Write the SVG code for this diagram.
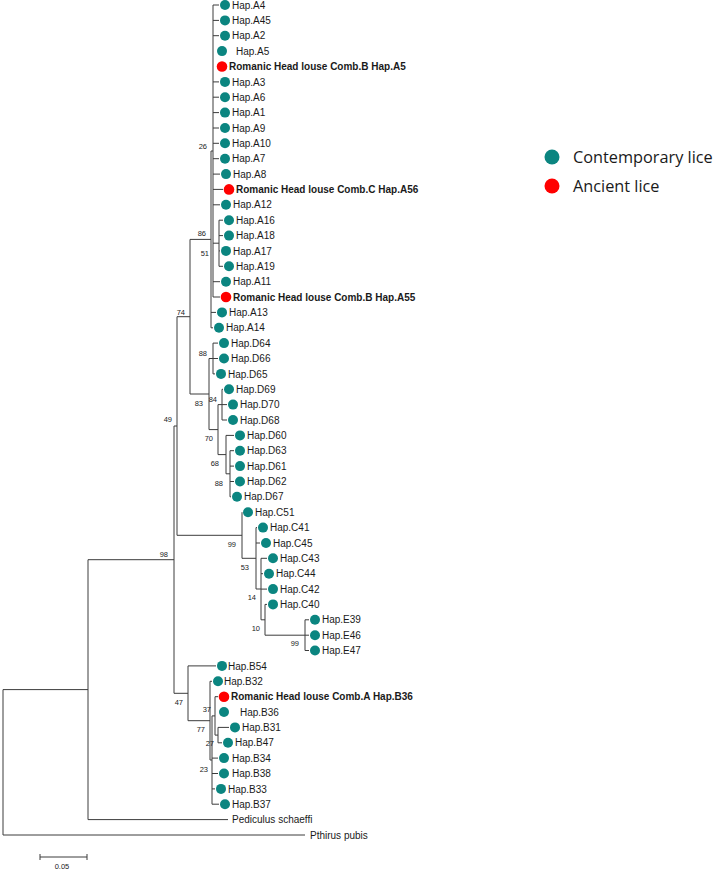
<svg xmlns="http://www.w3.org/2000/svg" width="720" height="870" viewBox="0 0 720 870">
<style>
.b{fill:none;stroke:#3c3c3c;stroke-width:1}
.t{font-family:"Liberation Sans",Arial,sans-serif;font-size:10px;fill:#1a1a1a}
.rb{font-weight:bold}
.n{font-family:"Liberation Sans",Arial,sans-serif;font-size:7.5px;fill:#222;text-anchor:end}
.g{fill:#0b8580}
.r{fill:#ff0000}
.lg{font-family:"Open Sans",sans-serif;font-size:16.3px;fill:#1a1a1a}
</style>
<rect width="720" height="870" fill="#fff"/>
<g id="connectors">
<path class="b" d="M3 689.6V835M3 689.6H88M3 835H305
M88 559.7V819.6M88 559.7H174M88 819.6H228
M174 426V693.3M174 426H177M174 693.3H188
M177 316.7V535.3M177 316.7H190M177 535.3H242
M190 239.4V394M190 239.4H211M190 394H209
M211 151V327.8M211 151H213M211 312.4H216M211 327.8H213
M213 5V297M213 5H219M213 20.4H219M213 35.7H219M213 81.9H219M213 97.2H219M213 112.6H219M213 128H219M213 143.3H219M213 158.7H219M213 174.1H220M213 189.4H223M213 204.8H220M213 243.2H219M213 281.7H220M213 297H220
M219 220.2V266.3M219 220.2H223M219 235.6H223M219 250.9H220M219 266.3H223
M209 358.5V429.6M209 358.5H213M209 429.6H218
M213 343.1V373.9M213 343.1H218M213 358.5H218M213 373.9H215
M218 404.6V454.6M218 404.6H222M218 454.6H226
M222 389.3V420M222 389.3H223M222 404.6H227M222 420H227
M226 435.4V473.8M226 435.4H234M226 473.8H230
M230 450.7V496.8M230 450.7H234M230 466.1H234M230 481.5H234M230 496.8H231
M242 512.2V558.3M242 558.3H256
M256 527.6V589M256 527.6H257M256 543H260M256 589H261
M261 558.3V619.8M261 558.3H267M261 573.7H263M261 589.1H267M261 619.8H265
M265 604.4V635.2M265 604.4H267M265 635.2H305
M305 619.8V650.5M305 619.8H309M305 635.2H309M305 650.5H309
M188 665.9V720.7M188 665.9H216M188 720.7H210
M210 681.3V760M210 681.3H212M210 760H212
M212 715.9V804.2M212 715.9H215M212 758.1H218M212 773.5H218M212 788.9H215M212 804.2H219
M215 696.7V735.1M215 696.7H218M215 735.1H218
M218 727.4V742.8M218 727.4H229M218 742.8H222"/>
</g>
<g id="bootstrap">
<text class="n" x="207" y="148.5">26</text>
<text class="n" x="206" y="235.5">86</text>
<text class="n" x="209" y="255.5">51</text>
<text class="n" x="185" y="315">74</text>
<text class="n" x="207" y="355.5">88</text>
<text class="n" x="203" y="405.5">83</text>
<text class="n" x="217" y="401.5">84</text>
<text class="n" x="213" y="440.5">70</text>
<text class="n" x="219" y="465.5">68</text>
<text class="n" x="223" y="485.5">88</text>
<text class="n" x="172" y="421.5">49</text>
<text class="n" x="168" y="556.5">98</text>
<text class="n" x="236" y="546.5">99</text>
<text class="n" x="249" y="569.5">53</text>
<text class="n" x="256" y="599.5">14</text>
<text class="n" x="260" y="630.5">10</text>
<text class="n" x="299" y="645.5">99</text>
<text class="n" x="183" y="704.5">47</text>
<text class="n" x="211" y="711.5">37</text>
<text class="n" x="205" y="731.5">77</text>
<text class="n" x="214" y="745.5">27</text>
<text class="n" x="208" y="771.5">23</text>
</g>
<g id="A4"><circle class="g" cx="225" cy="5" r="5"/><text class="t" x="232" y="8.6">Hap.A4</text></g>
<g id="A45"><circle class="g" cx="225" cy="20.4" r="5"/><text class="t" x="232" y="24">Hap.A45</text></g>
<g id="A2"><circle class="g" cx="225" cy="35.7" r="5"/><text class="t" x="232" y="39.3">Hap.A2</text></g>
<g id="A5"><circle class="g" cx="222" cy="51.1" r="5"/><text class="t" x="236" y="54.7">Hap.A5</text></g>
<g id="RomA5"><circle class="r" cx="222" cy="66.5" r="5.3"/><text class="t rb" x="229" y="70.1">Romanic Head louse Comb.B Hap.A5</text></g>
<g id="A3"><circle class="g" cx="225" cy="81.9" r="5"/><text class="t" x="232" y="85.5">Hap.A3</text></g>
<g id="A6"><circle class="g" cx="225" cy="97.2" r="5"/><text class="t" x="232" y="100.8">Hap.A6</text></g>
<g id="A1"><circle class="g" cx="225" cy="112.6" r="5"/><text class="t" x="232" y="116.2">Hap.A1</text></g>
<g id="A9"><circle class="g" cx="225" cy="128" r="5"/><text class="t" x="232" y="131.6">Hap.A9</text></g>
<g id="A10"><circle class="g" cx="225" cy="143.3" r="5"/><text class="t" x="232" y="146.9">Hap.A10</text></g>
<g id="A7"><circle class="g" cx="225" cy="158.7" r="5"/><text class="t" x="232" y="162.3">Hap.A7</text></g>
<g id="A8"><circle class="g" cx="226" cy="174.1" r="5"/><text class="t" x="233" y="177.7">Hap.A8</text></g>
<g id="RomA56"><circle class="r" cx="229" cy="189.4" r="5.3"/><text class="t rb" x="236" y="193">Romanic Head louse Comb.C Hap.A56</text></g>
<g id="A12"><circle class="g" cx="226" cy="204.8" r="5"/><text class="t" x="233" y="208.4">Hap.A12</text></g>
<g id="A16"><circle class="g" cx="229" cy="220.2" r="5"/><text class="t" x="236" y="223.8">Hap.A16</text></g>
<g id="A18"><circle class="g" cx="229" cy="235.6" r="5"/><text class="t" x="236" y="239.2">Hap.A18</text></g>
<g id="A17"><circle class="g" cx="226" cy="250.9" r="5"/><text class="t" x="233" y="254.5">Hap.A17</text></g>
<g id="A19"><circle class="g" cx="229" cy="266.3" r="5"/><text class="t" x="236" y="269.9">Hap.A19</text></g>
<g id="A11"><circle class="g" cx="226" cy="281.7" r="5"/><text class="t" x="233" y="285.3">Hap.A11</text></g>
<g id="RomA55"><circle class="r" cx="226" cy="297" r="5.3"/><text class="t rb" x="233" y="300.6">Romanic Head louse Comb.B Hap.A55</text></g>
<g id="A13"><circle class="g" cx="222" cy="312.4" r="5"/><text class="t" x="229" y="316">Hap.A13</text></g>
<g id="A14"><circle class="g" cx="219" cy="327.8" r="5"/><text class="t" x="226" y="331.4">Hap.A14</text></g>
<g id="D64"><circle class="g" cx="224" cy="343.1" r="5"/><text class="t" x="231" y="346.7">Hap.D64</text></g>
<g id="D66"><circle class="g" cx="224" cy="358.5" r="5"/><text class="t" x="231" y="362.1">Hap.D66</text></g>
<g id="D65"><circle class="g" cx="221" cy="373.9" r="5"/><text class="t" x="228" y="377.5">Hap.D65</text></g>
<g id="D69"><circle class="g" cx="229" cy="389.3" r="5"/><text class="t" x="236" y="392.9">Hap.D69</text></g>
<g id="D70"><circle class="g" cx="233" cy="404.6" r="5"/><text class="t" x="240" y="408.2">Hap.D70</text></g>
<g id="D68"><circle class="g" cx="233" cy="420" r="5"/><text class="t" x="240" y="423.6">Hap.D68</text></g>
<g id="D60"><circle class="g" cx="240" cy="435.4" r="5"/><text class="t" x="247" y="439">Hap.D60</text></g>
<g id="D63"><circle class="g" cx="240" cy="450.7" r="5"/><text class="t" x="247" y="454.3">Hap.D63</text></g>
<g id="D61"><circle class="g" cx="240" cy="466.1" r="5"/><text class="t" x="247" y="469.7">Hap.D61</text></g>
<g id="D62"><circle class="g" cx="240" cy="481.5" r="5"/><text class="t" x="247" y="485.1">Hap.D62</text></g>
<g id="D67"><circle class="g" cx="237" cy="496.8" r="5"/><text class="t" x="244" y="500.4">Hap.D67</text></g>
<g id="C51"><circle class="g" cx="248" cy="512.2" r="5"/><text class="t" x="255" y="515.8">Hap.C51</text></g>
<g id="C41"><circle class="g" cx="263" cy="527.6" r="5"/><text class="t" x="270" y="531.2">Hap.C41</text></g>
<g id="C45"><circle class="g" cx="266" cy="543" r="5"/><text class="t" x="273" y="546.6">Hap.C45</text></g>
<g id="C43"><circle class="g" cx="273" cy="558.3" r="5"/><text class="t" x="280" y="561.9">Hap.C43</text></g>
<g id="C44"><circle class="g" cx="269" cy="573.7" r="5"/><text class="t" x="276" y="577.3">Hap.C44</text></g>
<g id="C42"><circle class="g" cx="273" cy="589.1" r="5"/><text class="t" x="280" y="592.7">Hap.C42</text></g>
<g id="C40"><circle class="g" cx="273" cy="604.4" r="5"/><text class="t" x="280" y="608">Hap.C40</text></g>
<g id="E39"><circle class="g" cx="315" cy="619.8" r="5"/><text class="t" x="322" y="623.4">Hap.E39</text></g>
<g id="E46"><circle class="g" cx="315" cy="635.2" r="5"/><text class="t" x="322" y="638.8">Hap.E46</text></g>
<g id="E47"><circle class="g" cx="315" cy="650.5" r="5"/><text class="t" x="322" y="654.1">Hap.E47</text></g>
<g id="B54"><circle class="g" cx="222" cy="665.9" r="5"/><text class="t" x="228" y="669.5">Hap.B54</text></g>
<g id="B32"><circle class="g" cx="218" cy="681.3" r="5"/><text class="t" x="224" y="684.9">Hap.B32</text></g>
<g id="RomB36"><circle class="r" cx="224" cy="696.7" r="5.3"/><text class="t rb" x="231" y="700.3">Romanic Head louse Comb.A Hap.B36</text></g>
<g id="B36"><circle class="g" cx="224" cy="712" r="5"/><text class="t" x="240" y="715.6">Hap.B36</text></g>
<g id="B31"><circle class="g" cx="235" cy="727.4" r="5"/><text class="t" x="242" y="731">Hap.B31</text></g>
<g id="B47"><circle class="g" cx="228" cy="742.8" r="5"/><text class="t" x="235" y="746.4">Hap.B47</text></g>
<g id="B34"><circle class="g" cx="224" cy="758.1" r="5"/><text class="t" x="232" y="761.7">Hap.B34</text></g>
<g id="B38"><circle class="g" cx="224" cy="773.5" r="5"/><text class="t" x="232" y="777.1">Hap.B38</text></g>
<g id="B33"><circle class="g" cx="221" cy="788.9" r="5"/><text class="t" x="228" y="792.5">Hap.B33</text></g>
<g id="B37"><circle class="g" cx="225" cy="804.2" r="5"/><text class="t" x="232" y="807.8">Hap.B37</text></g>
<g id="Pediculus"><text class="t" x="232" y="823.2">Pediculus schaeffi</text></g>
<g id="Pthirus"><text class="t" x="310" y="838.6">Pthirus pubis</text></g>
<g id="scale">
<path class="b" d="M40 857H87M40 854V860M87 854V860"/>
<text class="n" style="text-anchor:middle" x="62" y="869">0.05</text>
</g>
<g id="legend">
<circle class="g" cx="552" cy="157" r="7.5"/><text class="lg" x="573" y="163">Contemporary lice</text>
<circle class="r" cx="552" cy="186" r="7.5"/><text class="lg" x="573" y="192">Ancient lice</text>
</g>
</svg>
